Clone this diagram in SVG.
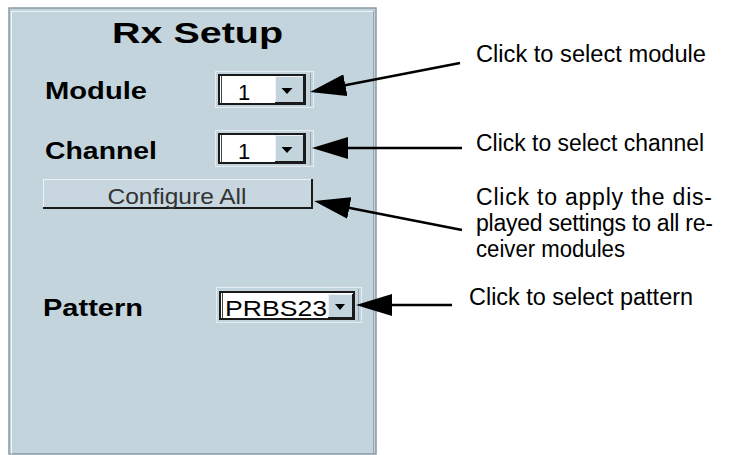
<svg xmlns="http://www.w3.org/2000/svg" width="733" height="455" viewBox="0 0 733 455">
<defs>
<style>
.panel{fill:#c3d4dd;stroke:#8a9aa4;stroke-width:1.5}
.lbl{font-family:"Liberation Sans",Arial,sans-serif;font-weight:bold;fill:#000}
.note{font-family:"Liberation Sans",Arial,sans-serif;font-size:23px;fill:#000}
.val{font-family:"Liberation Sans",Arial,sans-serif;font-size:22px;fill:#000}
.frame{fill:none;stroke:#e6edf1;stroke-width:1}
.field{fill:#fff;stroke:#1a1a1a;stroke-width:2}
.btn{fill:#c3d4dd}
.dk{stroke:#1a1a1a;stroke-width:2;fill:none}
.lt{stroke:#eef3f6;stroke-width:1;fill:none}
.gr{stroke:#95a4ad;stroke-width:1;fill:none}
.tri{fill:#000}
.conn{stroke:#000;stroke-width:2.5;fill:none;marker-end:url(#ah)}
</style>
<marker id="ah" markerUnits="userSpaceOnUse" markerWidth="36" markerHeight="22" viewBox="0 0 36 22" refX="28" refY="11" orient="auto">
<path d="M0,0 L36,11 L0,22 z" fill="#000"/>
</marker>
</defs>
<rect width="733" height="455" fill="#fff"/>

<g id="panel">
<rect class="panel" x="9" y="8" width="367" height="446"/>
<path class="lt" d="M11.5,454 V11.5 H374"/>
<path class="gr" d="M373.5,11 V454"/>
<text class="lbl" x="112" y="43" font-size="29" textLength="171" lengthAdjust="spacingAndGlyphs">Rx Setup</text>
</g>

<g id="module">
<text class="lbl" x="45" y="99" font-size="23" textLength="102" lengthAdjust="spacingAndGlyphs">Module</text>
<rect class="frame" x="215.5" y="71.5" width="98" height="36"/>
<path class="gr" d="M310.5,73 V106"/>
<rect class="field" x="219" y="75" width="86" height="29"/>
<path d="M221.5,76 V103" stroke="#444" stroke-width="1"/>
<rect class="btn" x="275" y="76" width="29" height="27"/>
<path class="lt" d="M275.5,102 V76.5 H303"/>
<path class="dk" d="M275,103 H304 V76"/>
<polygon class="tri" points="281.5,88 292.5,88 287,94"/>
<text class="val" x="244" y="100" text-anchor="middle">1</text>
</g>

<g id="channel">
<text class="lbl" x="45" y="159" font-size="23" textLength="112" lengthAdjust="spacingAndGlyphs">Channel</text>
<rect class="frame" x="215.5" y="130.5" width="98" height="36"/>
<path class="gr" d="M310.5,132 V165"/>
<rect class="field" x="219" y="134" width="86" height="29"/>
<path d="M221.5,135 V162" stroke="#444" stroke-width="1"/>
<rect class="btn" x="275" y="135" width="29" height="27"/>
<path class="lt" d="M275.5,161 V135.5 H303"/>
<path class="dk" d="M275,162 H304 V135"/>
<polygon class="tri" points="281.5,147 292.5,147 287,153"/>
<text class="val" x="244" y="159" text-anchor="middle">1</text>
</g>

<g id="configure">
<rect x="43" y="179" width="269" height="29" fill="#c8d7df"/>
<path class="lt" d="M43.5,207 V179.5 H311"/>
<path class="dk" d="M43,208 H312 V179"/>
<text x="177" y="204" text-anchor="middle" font-family="'Liberation Sans',Arial,sans-serif" font-size="22" fill="#333" textLength="139" lengthAdjust="spacingAndGlyphs">Configure All</text>
</g>

<g id="pattern">
<text class="lbl" x="43" y="316" font-size="23" textLength="100" lengthAdjust="spacingAndGlyphs">Pattern</text>
<rect class="frame" x="216.5" y="287.5" width="145" height="35"/>
<path class="gr" d="M358.5,289 V321"/>
<rect class="field" x="220" y="292" width="134" height="27"/>
<path d="M222.5,293 V318" stroke="#444" stroke-width="1"/>
<rect class="btn" x="328" y="294" width="25" height="24"/>
<path class="lt" d="M328.5,317 V294.5 H352"/>
<path class="dk" d="M328,318 H353 V294"/>
<polygon class="tri" points="335,304 345,304 340,310"/>
<text class="val" x="225" y="316" textLength="102" lengthAdjust="spacingAndGlyphs">PRBS23</text>
</g>

<g id="notes">
<text class="note" x="476" y="62" textLength="230" lengthAdjust="spacingAndGlyphs">Click to select module</text>
<text class="note" x="476" y="151" textLength="228" lengthAdjust="spacingAndGlyphs">Click to select channel</text>
<text class="note" x="476" y="205" textLength="236" lengthAdjust="spacing">Click to apply the dis-</text>
<text class="note" x="476" y="231" textLength="237" lengthAdjust="spacing">played settings to all re-</text>
<text class="note" x="476" y="257" textLength="149" lengthAdjust="spacingAndGlyphs">ceiver modules</text>
<text class="note" x="469" y="305" textLength="224" lengthAdjust="spacingAndGlyphs">Click to select pattern</text>
</g>

<g id="connectors">
<path class="conn" d="M460,63 L317.9,90.5"/>
<path class="conn" d="M462,148 L320,148"/>
<path class="conn" d="M462,230 L321.9,202.5"/>
<path class="conn" d="M452,305 L364,305"/>
</g>
</svg>
